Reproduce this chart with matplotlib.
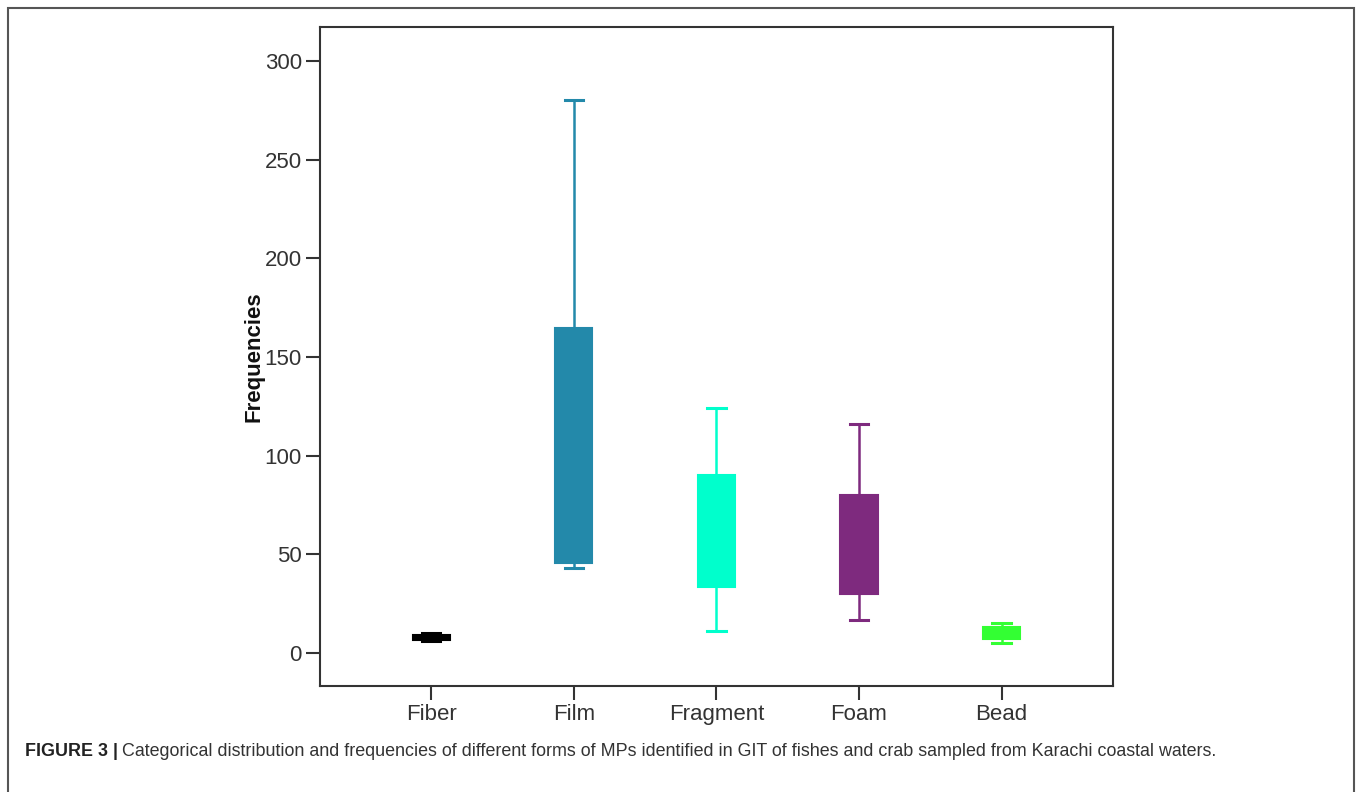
import matplotlib
matplotlib.use('Agg')
import matplotlib.pyplot as plt
from matplotlib.patches import Rectangle

plt.rcParams['font.family'] = ['Liberation Sans', 'DejaVu Sans']

# box summaries
categories = ["Fiber", "Film", "Fragment", "Foam", "Bead"]
whis_low = [6, 43, 11, 17, 5.2]
q1 = [6.5, 45.5, 33.5, 30, 7.2]
median = [7.5, 95, 60, 50, 10]
q3 = [9.0, 164.5, 90, 80, 13]
whis_high = [10.2, 280, 124, 116, 15.3]
colors = ["#000000", "#2389AA", "#00FFCC", "#7E2A7E", "#33FF33"]

y_ticks = [0, 50, 100, 150, 200, 250, 300]

fig = plt.figure(figsize=(13.62, 7.92), dpi=100)
ax = fig.add_axes([0.2349, 0.1338, 0.5822, 0.8321])

for i, cat in enumerate(categories):
    stats = [{
        "label": cat, "whislo": whis_low[i], "q1": q1[i], "med": median[i],
        "q3": q3[i], "whishi": whis_high[i], "fliers": [],
    }]
    c = colors[i]
    ax.bxp(stats, positions=[i + 1], widths=0.26, patch_artist=True,
           showfliers=False, capwidths=0.13,
           boxprops=dict(facecolor=c, edgecolor=c, linewidth=1.5),
           whiskerprops=dict(color=c, linewidth=1.8),
           capprops=dict(color=c, linewidth=2.2),
           medianprops=dict(color=c, linewidth=1.5))

ax.set_xlim(0.22, 5.78)
ax.set_ylim(-16.7, 317.2)
ax.set_xticks(range(1, len(categories) + 1))
ax.set_xticklabels(categories)
ax.set_yticks(y_ticks)
ax.tick_params(axis='both', direction='out', length=10, width=1.5,
               labelsize=16, colors='#333333', pad=3)
for s in ax.spines.values():
    s.set_color('#333333')
    s.set_linewidth(1.5)
ax.set_ylabel("Frequencies", fontsize=16, fontweight='bold', color='#111111', labelpad=0)

# outer frame of the figure panel (bottom edge runs off the image)
fig.patches.append(Rectangle((8 / 1362, -0.05), (1354 - 8) / 1362, 1 - 8 / 792 + 0.05,
                             transform=fig.transFigure, fill=False,
                             edgecolor='#555555', linewidth=1.5))

# caption: bold lead-in then regular text
yc = 1 - 751 / 792
t1 = fig.text(25 / 1362, yc, "FIGURE 3 |", fontsize=12.9, fontweight='bold',
              color='#222222', va='center')
fig.canvas.draw()
bb = t1.get_window_extent()
fig.text(bb.x1 / 1362 + 4 / 1362, yc,
         "Categorical distribution and frequencies of different forms of MPs identified in GIT of fishes and crab sampled from Karachi coastal waters.",
         fontsize=12.9, color='#333333', va='center')

fig.savefig("out.png", dpi=100)
